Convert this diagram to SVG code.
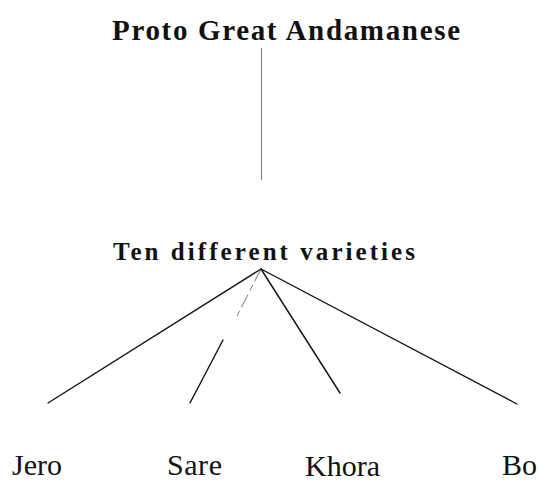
<svg xmlns="http://www.w3.org/2000/svg" width="538" height="481" viewBox="0 0 538 481">
  <style>
    text { font-family: 'Liberation Serif', 'DejaVu Serif', 'Noto Serif', serif; fill: #111; }
    .head { font-weight: bold; }
    .leaf { font-size: 30px; }
    .edge { stroke: #111; stroke-width: 1.4; fill: none; stroke-linecap: round; }
    .faint { stroke: #777; stroke-width: 1; fill: none; }
  </style>
  <rect width="538" height="481" fill="#fff"/>

  <g id="connectors">
    <line class="faint" x1="261.5" y1="48" x2="261.5" y2="180"/>
    <line class="edge" x1="261" y1="269" x2="48" y2="403"/>
    <line class="faint" x1="261" y1="269" x2="237" y2="316" stroke-dasharray="14 4 6 5"/>
    <line class="edge" x1="223" y1="340" x2="190" y2="403"/>
    <line class="edge" x1="261" y1="269" x2="340" y2="393"/>
    <line class="edge" x1="261" y1="269" x2="517" y2="404"/>
  </g>

  <g id="proto">
    <text class="head" font-family="Liberation Serif, serif" x="112" y="40" font-size="29" textLength="348" lengthAdjust="spacing">Proto Great Andamanese</text>
  </g>
  <g id="varieties">
    <text class="head" font-family="Liberation Serif, serif" x="113" y="260" font-size="25" textLength="302" lengthAdjust="spacing">Ten different varieties</text>
  </g>
  <g id="jero">
    <text class="leaf" font-family="Liberation Serif, serif" x="12" y="475" textLength="50" lengthAdjust="spacing">Jero</text>
  </g>
  <g id="sare">
    <text class="leaf" font-family="Liberation Serif, serif" x="167" y="475" textLength="55" lengthAdjust="spacing">Sare</text>
  </g>
  <g id="khora">
    <text class="leaf" font-family="Liberation Serif, serif" x="305" y="476" textLength="75" lengthAdjust="spacing">Khora</text>
  </g>
  <g id="bo">
    <text class="leaf" font-family="Liberation Serif, serif" x="502" y="475">Bo</text>
  </g>
</svg>
